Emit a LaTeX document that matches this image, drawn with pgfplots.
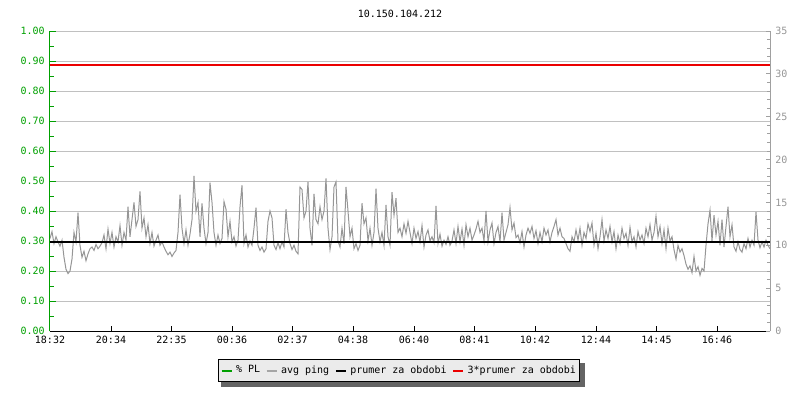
\documentclass[border=0pt]{standalone}
\usepackage{pgfplots}
\pgfplotsset{compat=1.18}
\usepackage{pgfplotstable}
\usepackage{fontspec}
\setmainfont{DejaVu Sans Mono}
\definecolor{plgreen}{RGB}{0,160,0}
\definecolor{pinggray}{RGB}{150,150,150}
\definecolor{leggray}{RGB}{165,165,165}
\definecolor{gridgray}{RGB}{192,192,192}
\definecolor{axgray}{RGB}{160,160,160}
\definecolor{legfill}{RGB}{235,235,235}
\definecolor{shadowgray}{RGB}{100,100,100}
\definecolor{meanred}{RGB}{235,0,0}
\newlength\px
\setlength\px{0.6pt}
\pgfplotstableread{
px v
50 10.8
52 11.6
54 10.2
56 11.0
58 10.4
60 9.9
62 10.6
64 8.6
66 7.2
68 6.7
70 7.0
72 8.4
74 11.5
76 10.4
78 13.8
80 10.0
82 8.6
84 9.3
86 8.2
88 9.0
90 9.6
92 9.8
94 9.4
96 10.1
98 9.6
100 9.9
102 10.3
104 11.2
106 9.6
108 11.9
110 10.2
112 11.5
114 9.8
116 11.0
118 10.4
120 12.3
122 10.0
124 11.5
126 10.6
128 14.5
130 11.0
132 13.0
134 15.0
136 12.2
138 13.0
140 16.3
142 12.0
144 13.2
146 11.0
148 12.4
150 10.2
152 11.5
154 9.9
156 10.6
158 11.2
160 10.0
162 10.4
164 9.8
166 9.3
168 8.9
170 9.2
172 8.7
174 9.1
176 9.4
178 11.5
180 15.9
182 12.0
184 10.2
186 11.8
188 10.0
190 11.3
192 13.0
194 18.1
196 14.0
198 15.0
200 11.0
202 14.9
204 12.0
206 10.2
208 11.5
210 17.3
212 15.0
214 11.5
216 10.0
218 11.2
220 10.2
222 10.8
224 15.1
226 14.2
228 11.0
230 12.8
232 10.4
234 11.0
236 9.9
238 10.6
240 14.5
242 17.0
244 10.2
246 11.2
248 9.8
250 10.5
252 10.0
254 12.0
256 14.4
258 10.0
260 9.4
262 9.8
264 9.2
266 9.6
268 12.8
270 14.0
272 13.2
274 10.0
276 9.5
278 10.3
280 9.6
282 10.4
284 9.8
286 14.2
288 11.5
290 10.2
292 9.5
294 10.0
296 9.3
298 9.0
300 16.8
302 16.5
304 13.2
306 14.0
308 17.4
310 12.0
312 10.0
314 16.0
316 13.0
318 12.5
320 14.5
322 13.0
324 14.0
326 17.8
328 12.0
330 9.5
332 11.0
334 16.8
336 17.4
338 10.5
340 9.8
342 12.0
344 10.2
346 16.8
348 14.0
350 11.0
352 12.0
354 9.6
356 10.2
358 9.4
360 10.0
362 14.9
364 12.5
366 13.2
368 10.5
370 12.0
372 10.0
374 11.5
376 16.6
378 12.0
380 10.4
382 11.5
384 10.0
386 14.7
388 11.0
390 10.0
392 16.2
394 13.5
396 15.5
398 11.5
400 12.0
402 11.0
404 12.5
406 11.4
408 12.8
410 11.5
412 10.2
414 12.0
416 10.8
418 11.6
420 10.4
422 12.3
424 9.8
426 11.2
428 11.8
430 10.5
432 11.0
434 10.3
436 14.6
438 10.2
440 11.3
442 9.9
444 10.6
446 10.1
448 11.0
450 10.0
452 10.5
454 11.8
456 10.2
458 12.2
460 10.4
462 11.9
464 10.0
466 12.4
468 11.0
470 12.0
472 10.6
474 11.2
476 11.9
478 12.8
480 11.5
482 12.0
484 10.5
486 14.0
488 10.4
490 11.8
492 12.6
494 10.2
496 11.5
498 12.2
500 10.4
502 13.8
504 10.6
506 11.5
508 12.4
510 14.4
512 11.8
514 12.6
516 10.9
518 11.2
520 10.3
522 11.6
524 9.8
526 11.2
528 12.0
530 11.4
532 12.2
534 10.8
536 11.7
538 10.2
540 11.5
542 10.4
544 12.0
546 11.2
548 11.8
550 10.4
552 11.5
554 12.2
556 13.0
558 11.2
560 12.0
562 11.0
564 10.8
566 10.2
568 9.6
570 9.3
572 11.0
574 10.4
576 11.8
578 10.6
580 12.0
582 10.0
584 11.5
586 10.8
588 12.5
590 11.6
592 12.6
594 10.0
596 11.4
598 9.6
600 11.0
602 13.0
604 10.5
606 11.8
608 10.8
610 12.2
612 10.4
614 11.6
616 9.6
618 11.2
620 10.2
622 12.0
624 10.8
626 11.4
628 10.0
630 12.1
632 10.4
634 11.0
636 9.8
638 11.6
640 10.6
642 11.2
644 10.2
646 12.0
648 11.0
650 12.4
652 10.6
654 11.5
656 13.4
658 11.0
660 12.2
662 10.2
664 11.8
666 9.6
668 12.0
670 10.5
672 11.0
674 9.5
676 8.4
678 10.0
680 9.2
682 9.6
684 8.8
686 7.8
688 7.2
690 7.6
692 6.8
694 8.7
696 7.0
698 7.5
700 6.5
702 7.3
704 7.0
706 10.0
708 12.5
710 14.1
712 10.5
714 13.5
716 11.2
718 12.8
720 10.0
722 13.0
724 9.8
726 12.2
728 14.5
730 11.0
732 12.4
734 9.8
736 9.3
738 10.4
740 9.5
742 9.2
744 10.2
746 9.6
748 10.8
750 9.8
752 10.6
754 10.0
756 13.9
758 10.6
760 9.7
762 10.4
764 9.8
766 10.6
768 10.0
770 9.6
}\ping
\begin{document}
\begin{tikzpicture}
\path[use as bounding box] (0,0) rectangle (800\px,400\px);
\node[font=\fontsize{6pt}{7pt}\selectfont, inner sep=0pt] at (400\px,386\px) {10.150.104.212};
% legend shadow
\fill[shadowgray] (220.5\px,13.5\px) rectangle (584.5\px,37.5\px);
\begin{axis}[
  at={(50\px,69\px)}, anchor=south west, scale only axis,
  width=720\px, height=300\px,
  xmin=0, xmax=1440, ymin=0, ymax=1,
  axis x line*=bottom, axis y line*=left,
  x axis line style={black, line width=1\px, -},
  y axis line style={plgreen, line width=1\px, -},
  xtick={0,122,243,364,485,606,728,849,970,1092,1213,1334},
  xticklabels={18:32,20:34,22:35,00:36,02:37,04:38,06:40,08:41,10:42,12:44,14:45,16:46},
  ytick={0,0.1,...,1.01},
  minor ytick={0.05,0.15,...,0.96},
  ymajorgrids, grid style={gridgray, line width=1\px},
  tick align=inside,
  x tick style={black, line width=1\px},
  y tick style={plgreen, line width=1\px},
  major tick length=5.5\px, minor tick length=4\px,
  /pgf/number format/assume math mode=true,
  yticklabel style={plgreen, font=\fontsize{6pt}{7pt}\selectfont, inner sep=0pt, xshift=-5\px,
    /pgf/number format/.cd, fixed, fixed zerofill, precision=2},
  xticklabel style={black, font=\fontsize{6pt}{7pt}\selectfont, inner sep=0pt, yshift=-5\px},
]
\end{axis}
\begin{axis}[
  at={(50\px,69\px)}, anchor=south west, scale only axis,
  width=720\px, height=300\px,
  xmin=0, xmax=1440, ymin=0, ymax=35,
  axis y line*=right, axis x line=none,
  y axis line style={axgray, line width=1\px, -},
  ytick={0,5,...,35}, minor tick num=4,
  tick align=inside,
  y tick style={axgray, line width=1\px},
  major tick length=4\px, minor tick length=3\px,
  /pgf/number format/assume math mode=true,
  yticklabel style={pinggray, font=\fontsize{6pt}{7pt}\selectfont, inner sep=0pt, xshift=5\px},
  legend columns=4,
  legend image code/.code={\draw[#1, line width=2\px] (0,0) -- (10\px,0);},
  legend style={at={(0.4847,-0.0933)}, anchor=north,
    fill=legfill, draw=black, line width=1\px,
    font=\fontsize{6pt}{7pt}\selectfont,
    inner xsep=2.5\px, inner ysep=4.5\px,
    nodes={inner sep=1.5\px},
    /tikz/every odd column/.append style={column sep=2\px},
    /tikz/every even column/.append style={column sep=4\px}},
  legend cell align=left,
]
\addlegendimage{plgreen}
\addlegendentry{\% PL}
\addplot[pinggray, line width=1\px, forget plot] table[x expr={(\thisrow{px}-50)*2}, y=v] {\ping};
\addlegendimage{leggray}
\addlegendentry{avg ping}
\addplot[black, line width=2.2\px] coordinates {(0,10.35) (1440,10.35)};
\addlegendentry{prumer za obdobi}
\addplot[meanred, line width=1.4\px] coordinates {(0,31.05) (1440,31.05)};
\addlegendentry{3*prumer za obdobi}
\end{axis}
\end{tikzpicture}
\end{document}
